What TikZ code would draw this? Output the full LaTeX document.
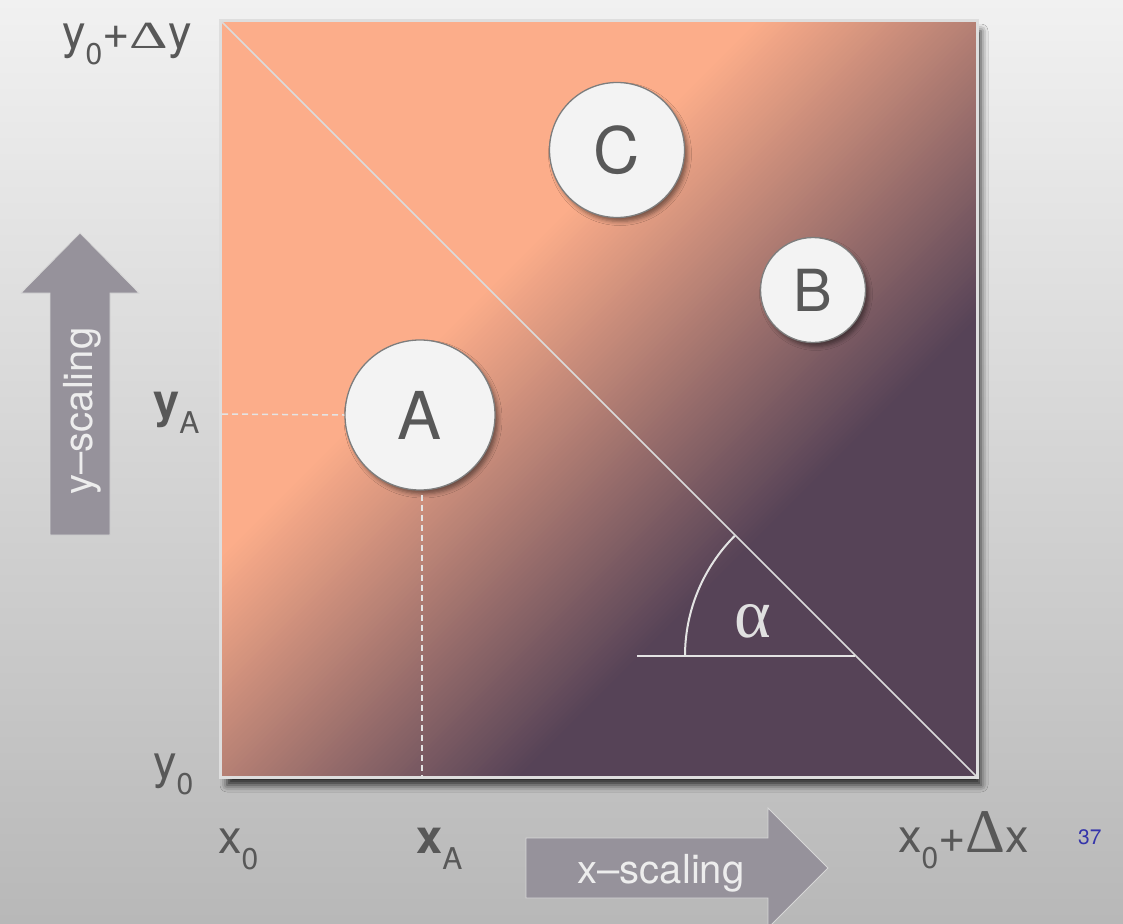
\documentclass[tikz,border=0pt]{standalone}
\usepackage{fontspec}
\usepackage{graphicx}
\setmainfont{TeX Gyre Heros}
\newfontfamily\serifgr{Liberation Serif}
\usetikzlibrary{shadows.blur}
\definecolor{salm}{RGB}{252,173,138}
\definecolor{purp}{RGB}{86,67,87}
\definecolor{bgtop}{RGB}{241,241,241}
\definecolor{bgbot}{RGB}{184,184,184}
\definecolor{arrowfill}{RGB}{150,146,155}
\definecolor{arrowedge}{RGB}{215,215,215}
\definecolor{labelgray}{RGB}{88,88,88}
\definecolor{lineclr}{RGB}{228,228,228}
\definecolor{pagenum}{RGB}{52,52,170}
\definecolor{circfill}{RGB}{243,243,243}
\definecolor{circline}{RGB}{125,125,125}
\definecolor{frameclr}{RGB}{222,222,222}
\newcommand\mysub[1]{\raisebox{-16pt}{\fontsize{30}{30}\selectfont #1}}
\tikzset{
  lbl/.style={inner sep=0pt, text=labelgray, font=\fontsize{47}{47}\selectfont},
  circ/.style={circle, draw=circline, line width=1.3pt, fill=circfill, inner sep=0pt,
    text=labelgray, blur shadow={shadow xshift=3pt, shadow yshift=-4pt, shadow blur radius=4pt, shadow opacity=45}},
  guide/.style={lineclr, line width=1.5pt, dash pattern=on 6pt off 4pt},
  anglestyle/.style={lineclr, line width=2pt},
  scalearrow/.style={fill=arrowfill, draw=arrowedge, line width=0.8pt},
  arrowtext/.style={inner sep=0pt, text=white!93!black, font=\fontsize{40}{40}\selectfont}
}
\begin{document}
\begin{tikzpicture}[x=1pt,y=-1pt]
% background
\shade[top color=bgtop, bottom color=bgbot] (0,0) rectangle (1123,923);
\useasboundingbox (0,0) rectangle (1123,923);
% corners
\coordinate (TL) at (222,22);
\coordinate (TR) at (976,22);
\coordinate (BL) at (222,776);
\coordinate (BR) at (976,776);
% shadow of the square
\path[blur shadow={shadow xshift=5pt, shadow yshift=-9pt, shadow blur radius=7pt, shadow opacity=80}] (TL) rectangle (BR);
% gradient square
\begin{scope}
\clip (TL) rectangle (BR);
\fill[salm] (TL) rectangle (BR);
\foreach \i in {0,...,99} {
  \pgfmathsetmacro\sa{530+\i*5.2}
  \pgfmathsetmacro\sb{\sa+6.5}
  \fill[purp!\i!salm] ({222+\sa+1000},-978) -- ({222+\sb+1000},-978) -- ({222+\sb-1000},1022) -- ({222+\sa-1000},1022) -- cycle;
}
\fill[purp] ({222+1050+1000},-978) -- (3500,-978) -- (3500,1022) -- ({222+1050-1000},1022) -- cycle;
\end{scope}
\draw[frameclr, line width=3pt] (220.5,20.5) rectangle (977.5,777.5);
% diagonal
\draw[white!86!black, line width=1.5pt] (TL) -- (BR);
% angle
\coordinate (Actr) at (855,656);
\coordinate (Aleft) at (637,656);
\draw[anglestyle] (Aleft) -- (Actr);
\draw[anglestyle] (Actr) ++(180:170) arc[start angle=180, end angle=225, radius=170];
\node[inner sep=0pt, anchor=base, text=white!88!black, font=\serifgr\fontsize{70}{70}\selectfont] (alpha) at (753,637) {α};
% circles
\node[circ, minimum size=150pt, font=\fontsize{66}{66}\selectfont] (A) at (420,415) {A};
\node[circ, minimum size=135pt, font=\fontsize{64}{64}\selectfont] (C) at (617,150) {C};
\node[circ, minimum size=105pt, font=\fontsize{58}{58}\selectfont] (B) at (813,290) {B};
% guides
\coordinate (yAaxis) at (222,414);
\coordinate (xAtop) at (422,495);
\coordinate (xAaxis) at (422,776);
\draw[guide] (yAaxis) -- (A.west);
\draw[guide] (xAtop) -- (xAaxis);
% axis labels
\node[lbl, anchor=base west] (ytop) at (62,49) {y\mysub{0}+\scalebox{1}[0.64]{\serifgr\fontsize{60}{60}\selectfont Δ}y};
\node[lbl, anchor=base west] (yA) at (153,417) {{\bfseries y}\mysub{A}};
\node[lbl, anchor=base west] (y0) at (153,778) {y\mysub{0}};
\node[lbl, anchor=base west] (x0) at (218,853) {x\mysub{0}};
\node[lbl, anchor=base west] (xA) at (416,853) {{\bfseries x}\mysub{A}};
\node[lbl, anchor=base west] (xend) at (898,852) {x\mysub{0}+{\serifgr\fontsize{62}{62}\selectfont Δ}x};
\node[inner sep=0pt, anchor=base west, text=pagenum, font=\fontsize{21}{21}\selectfont] (pg) at (1078,844) {37};
% scaling arrows
\draw[scalearrow] (50,535) -- (50,293) -- (21,293) -- (80,233) -- (139,293) -- (110,293) -- (110,535) -- cycle;
\node[arrowtext, rotate=90] (ys) at (82,411) {y–scaling};
\draw[scalearrow] (526,838) -- (768,838) -- (768,808) -- (828,868) -- (768,928) -- (768,898) -- (526,898) -- cycle;
\node[arrowtext, anchor=base] (xs) at (661,883) {x–scaling};
\end{tikzpicture}
\end{document}
